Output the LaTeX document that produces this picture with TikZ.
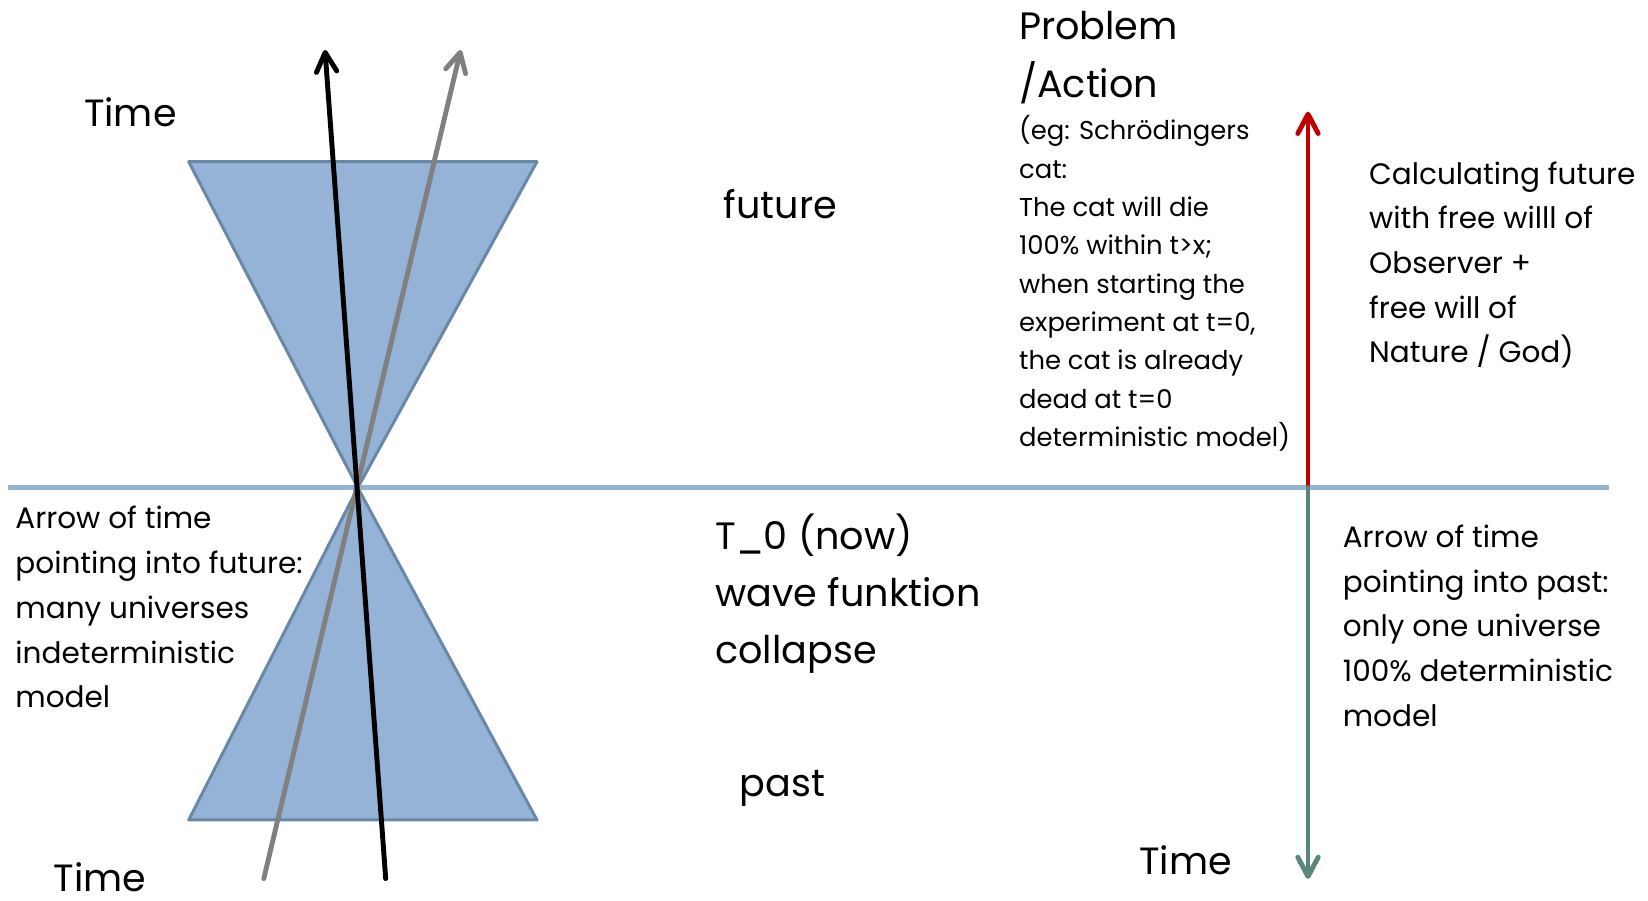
\documentclass[tikz,border=0pt]{standalone}
\usepackage{fontspec}
\setmainfont{Poppins}
\usepackage{tikz}
\usetikzlibrary{arrows.meta}
\definecolor{coneblue}{HTML}{95B3D7}
\definecolor{coneedge}{HTML}{6A87A6}
\definecolor{futred}{HTML}{C00000}
\definecolor{pastteal}{HTML}{5A877D}
\definecolor{linegray}{HTML}{808080}
\tikzset{
  every picture/.style={line join=round, line cap=round},
  cone/.style={fill=coneblue, draw=coneedge, line width=0.85pt},
  nowline/.style={draw=coneblue, line width=1.4pt, line cap=butt},
  worldline/.style={line width=1.4pt, -{Straight Barb[length=5.5pt,width=5.8pt,round]}},
  lbl/.style={inner sep=0pt, anchor=base west},
  bigtxt/.style={font=\fontsize{10.85}{13}\selectfont},
  timetxt/.style={font=\fontsize{10.8}{13}\selectfont, inner sep=0pt, anchor=base},
  midtxt/.style={font=\fontsize{8.4}{10}\selectfont},
  smalltxt/.style={font=\fontsize{7.35}{9}\selectfont},
}

\begin{document}
\begin{tikzpicture}
\useasboundingbox (0,0) rectangle (16.48,9.01);
% light cone
\coordinate (apex) at (3.578,4.133);
\filldraw[cone] (1.887,7.393) -- (5.370,7.393) -- (apex) -- cycle;
\filldraw[cone] (1.887,0.810) -- (5.370,0.810) -- (apex) -- cycle;
\coordinate (nowleft) at (0.084,4.133);
\coordinate (nowright) at (16.090,4.133);
\coordinate (nowarrow) at (13.080,4.133);
\draw[nowline] (nowleft) -- (nowright);
% world lines
\coordinate (blackfoot) at (3.857,0.224);
\coordinate (blacktip) at (3.250,8.510);
\coordinate (grayfoot) at (2.638,0.224);
\coordinate (graytip) at (4.607,8.510);
\draw[worldline,linegray] (grayfoot) -- (graytip);
\draw[worldline,black] (blackfoot) -- (blacktip);
% arrows of time on the right
\coordinate (redtip) at (13.080,7.893);
\coordinate (tealtip) at (13.080,0.220);
\draw[worldline,futred] (nowarrow) -- (redtip);
\draw[worldline,pastteal] (nowarrow) -- (tealtip);
% labels
\node[timetxt] (timetl) at (1.303,7.743) {Time};
\node[timetxt] (timebl) at (0.998,0.090) {Time};
\node[timetxt] (timebr) at (11.855,0.260) {Time};
\node[bigtxt,lbl] (future) at (7.231,6.820) {future};
\node[bigtxt,lbl] (past) at (7.389,1.040) {past};
\foreach \txt [count=\i] in {T\_0 (now), wave funktion, collapse}
  \node[bigtxt,lbl] (now\i) at (7.147,{3.515-0.570*(\i-1)}) {\txt};
\foreach \txt [count=\i] in {Problem, /Action}
  \node[bigtxt,lbl] (prob\i) at (10.184,{8.610-0.577*(\i-1)}) {\txt};
\foreach \txt [count=\i] in {{(eg: Schrödingers}, cat:, The cat will die, {100\% within t>x;}, when starting the, {experiment at t=0,}, the cat is already, dead at t=0, {deterministic model)}}
  \node[smalltxt,lbl] (cat\i) at (10.184,{7.610-0.383*(\i-1)}) {\txt};
\foreach \txt [count=\i] in {Calculating future, with free willl of, Observer +, free will of, {Nature / God)}}
  \node[midtxt,lbl] (calc\i) at (13.684,{7.167-0.446*(\i-1)}) {\txt};
\foreach \txt [count=\i] in {Arrow of time, pointing into past:, only one universe, 100\% deterministic, model}
  \node[midtxt,lbl] (pst\i) at (13.421,{3.533-0.446*(\i-1)}) {\txt};
\foreach \txt [count=\i] in {Arrow of time, pointing into future:, many universes, indeterministic, model}
  \node[midtxt,lbl] (fut\i) at (0.147,{3.720-0.4475*(\i-1)}) {\txt};
\end{tikzpicture}
\end{document}
